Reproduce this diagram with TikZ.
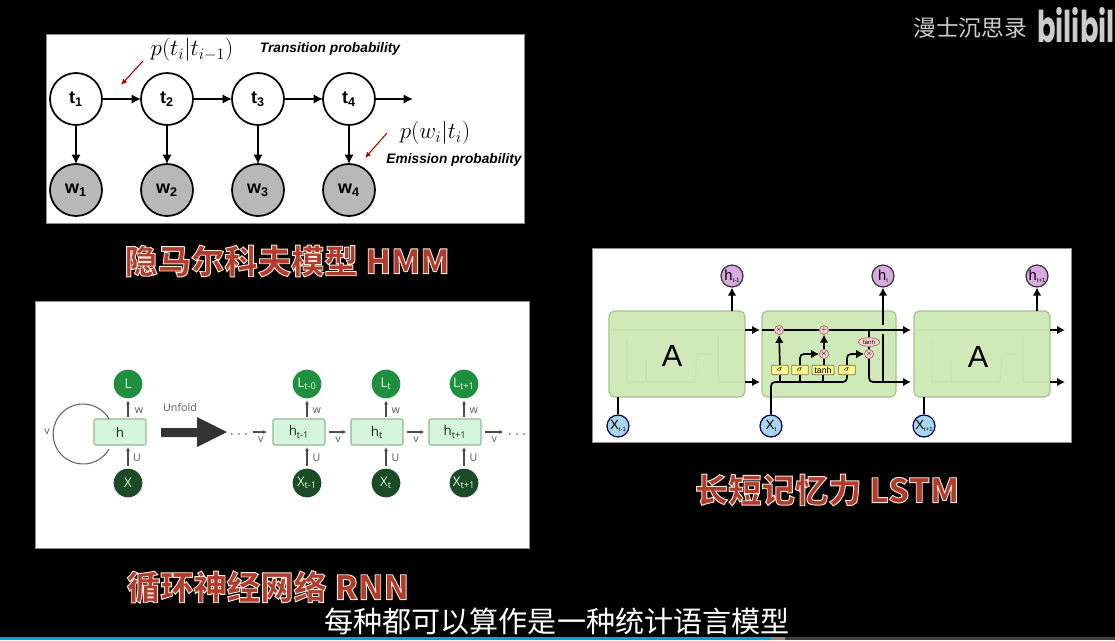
\documentclass[tikz,border=0pt]{standalone}
\usepackage{fontspec}
\usepackage{graphicx}
\usepackage{xcolor}
\usepackage{tikz}
\usetikzlibrary{arrows.meta,positioning,shapes.geometric}
\setmainfont{Liberation Sans}
\newfontfamily\cjk{Noto Sans CJK SC}
\newfontfamily\rnnfont{Open Sans}
\newfontfamily\logofont{Poppins}
\definecolor{titlered}{HTML}{B23C2C}
\definecolor{cellgreen}{HTML}{D6F5DC}
\definecolor{cellline}{HTML}{8FB89A}
\definecolor{lossgreen}{HTML}{1F8F3F}
\definecolor{inputgreen}{HTML}{1B4A26}
\definecolor{lstmgreen}{HTML}{CFE9B8}
\definecolor{lstmedge}{HTML}{A3C48E}
\definecolor{ghostgreen}{HTML}{C8E3B0}
\definecolor{outviolet}{HTML}{D9A9E2}
\definecolor{inblue}{HTML}{A9D5EF}
\definecolor{barblue}{HTML}{00A4DC}
\newcommand{\outlined}[1]{\special{pdf:code q 2 Tr 0.97 0.91 0.86 RG 0.7 w}#1\special{pdf:code Q}}
\newcommand{\tinysub}[1]{\raisebox{-1.2pt}{\fontsize{4.5}{4.5}\selectfont #1}}
\tikzset{
  panel/.style={fill=white,draw=black!45,line width=0.5pt},
  hmmstate/.style={circle,draw=black,line width=1.3pt,fill=white,minimum size=39pt,inner sep=0pt,outer sep=0pt,font=\bfseries\fontsize{13.5}{13.5}\selectfont},
  hmmword/.style={hmmstate,fill=black!28},
  hmmflow/.style={-{Latex[length=7pt,width=7pt]},line width=1.3pt},
  redflow/.style={-{Latex[length=4.5pt,width=4pt]},line width=0.8pt,draw=red!70!black},
  hmmnote/.style={font=\bfseries\itshape\fontsize{10.3}{12}\selectfont,inner sep=0pt},
  mathnote/.style={font=\fontsize{18.5}{20}\selectfont,inner sep=0pt},
  titletext/.style={text=titlered,inner sep=0pt,font=\cjk\bfseries\fontsize{25}{28}\selectfont},
  rnncell/.style={draw=cellline,fill=cellgreen,line width=0.8pt,rounded corners=1.5pt,minimum width=39pt,minimum height=19.5pt,inner sep=0pt,outer sep=0pt,text=black!65!green!60!black,font=\rnnfont\fontsize{10}{10}\selectfont},
  rnnloss/.style={circle,fill=lossgreen,minimum size=21.5pt,inner sep=0pt,outer sep=0pt,text=white!85!green,font=\rnnfont\fontsize{10}{10}\selectfont},
  rnninput/.style={rnnloss,fill=inputgreen},
  rnnflow/.style={-{Latex[length=3pt,width=3pt]},line width=0.8pt,draw=black!70},
  rnnlabel/.style={inner sep=0pt,text=black!65,font=\rnnfont\fontsize{8}{8}\selectfont},
  lstmcell/.style={draw=lstmedge,fill=lstmgreen,line width=0.9pt,rounded corners=4pt,minimum height=64.5pt,inner sep=0pt,outer sep=0pt},
  lstmout/.style={circle,draw=black!80,fill=outviolet,line width=0.9pt,minimum size=16.5pt,inner sep=0pt,font=\fontsize{11}{11}\selectfont},
  lstmin/.style={lstmout,draw=blue!35!black,fill=inblue,font=\fontsize{10}{10}\selectfont},
  lstmflow/.style={-{Latex[length=6pt,width=6.5pt]},line width=1.25pt},
  lstmwire/.style={line width=1.25pt},
  gatebox/.style={draw=yellow!40!black,fill=yellow!45!white,line width=0.6pt,minimum height=7pt,minimum width=12.5pt,inner sep=0pt,rounded corners=0.5pt,font=\fontsize{6.5}{6.5}\selectfont},
  opnode/.style={circle,draw=red!35!black!60,fill=red!18!white,line width=0.5pt,minimum size=6.5pt,inner sep=0pt,font=\fontsize{4.5}{4.5}\selectfont},
  ghostline/.style={draw=ghostgreen,line width=0.8pt}
}

\begin{document}
\begin{tikzpicture}[x=0.75pt,y=-0.75pt,node distance=29.25pt]
  \useasboundingbox (0,0) rectangle (1115,640);
  \fill[black] (0,0) rectangle (1115,640);
  \draw[panel] (46,34) rectangle (524,223);
  \draw[panel] (35,301) rectangle (529,548);
  \draw[panel] (592,248) rectangle (1071,442);
  \fill[black!75] (785,637) rectangle (1115,640);
  \fill[black!45] (771,637) rectangle (785,640);
  \fill[barblue] (0,637) rectangle (771,640);

  % HMM
  \node[hmmstate] (t1) at (76,99) {t\textsubscript{1}};
  \node[hmmstate,right=of t1] (t2) {t\textsubscript{2}};
  \node[hmmstate,right=of t2] (t3) {t\textsubscript{3}};
  \node[hmmstate,right=of t3] (t4) {t\textsubscript{4}};
  \node[hmmword,below=of t1] (w1) {w\textsubscript{1}};
  \node[hmmword,below=of t2] (w2) {w\textsubscript{2}};
  \node[hmmword,below=of t3] (w3) {w\textsubscript{3}};
  \node[hmmword,below=of t4] (w4) {w\textsubscript{4}};
  \coordinate (tend) at (413,99);
  \draw[hmmflow] (t1) -- (t2);
  \draw[hmmflow] (t2) -- (t3);
  \draw[hmmflow] (t3) -- (t4);
  \draw[hmmflow] (t4) -- (tend);
  \foreach \i in {1,2,3,4}
    \draw[hmmflow] (t\i) -- (w\i);
  \node[mathnote] (ptrans) at (192,50) {$p(t_i|t_{i-1})$};
  \node[mathnote] (pemit) at (435,133) {$p(w_i|t_i)$};
  \node[hmmnote] (transnote) at (330,49) {Transition probability};
  \node[hmmnote] (emitnote) at (454,160) {Emission probability};
  \coordinate (redA) at (143,61);
  \coordinate (redB) at (121,85);
  \coordinate (redC) at (387,133);
  \coordinate (redD) at (365,158);
  \draw[redflow] (redA) -- (redB);
  \draw[redflow] (redC) -- (redD);
  \node[titletext] (hmmtitle) at (287,261) {\outlined{隐马尔科夫模型 HMM}};

  % RNN
  \node[rnncell] (h) at (120,432) {h};
  \node[rnnloss] (L) at (128,384) {L};
  \node[rnninput] (X) at (128,483) {X};
  \draw[rnnflow,shorten >=1.5pt,shorten <=1.5pt] (h.north -| L) -- (L);
  \draw[rnnflow,shorten >=1.5pt,shorten <=2pt] (X) -- (h.south -| X);
  \node[rnnlabel] (lw) at (139,411) {w};
  \node[rnnlabel] (lu) at (137,458) {U};
  \draw[line width=0.8pt,draw=black!60] (h.130) arc[start angle=-30,end angle=-330,radius=30];
  \node[rnnlabel] (lv) at (47,432) {v};
  \node[rnnlabel] (unfoldtext) at (180,407) {Unfold};
  \fill[black!80] (161,428) -- (197,428) -- (197,417) -- (227,432) -- (197,447) -- (197,437) -- (161,437) -- cycle;
  \node[rnncell] (hA) at (299,432) {h\textsubscript{t-1}};
  \node[rnncell] (hB) at (377,432) {h\textsubscript{t}};
  \node[rnncell] (hC) at (455,432) {h\textsubscript{t+1}};
  \node[rnnloss] (LA) at (307,384) {L\textsubscript{t-0}};
  \node[rnnloss] (LB) at (386,384) {L\textsubscript{t}};
  \node[rnnloss] (LC) at (464,384) {L\textsubscript{t+1}};
  \node[rnninput] (XA) at (307,483) {X\textsubscript{t-1}};
  \node[rnninput] (XB) at (386,483) {X\textsubscript{t}};
  \node[rnninput] (XC) at (464,483) {X\textsubscript{t+1}};
  \foreach \c in {A,B,C} {
    \draw[rnnflow,shorten >=1.5pt,shorten <=1.5pt] (h\c.north -| L\c) -- (L\c);
    \draw[rnnflow,shorten >=1.5pt,shorten <=2pt] (X\c) -- (h\c.south -| X\c);
    \node[rnnlabel,right=4pt of L\c.south,yshift=-9.4pt] {w};
    \node[rnnlabel,right=4pt of X\c.north,yshift=8pt] {U};
  }
  \node[rnnlabel,font=\fontsize{12}{12}\selectfont] (dotsL) at (239,435) {$\cdots$};
  \node[rnnlabel,font=\fontsize{12}{12}\selectfont] (dotsR) at (517,435) {$\cdots$};
  \draw[rnnflow,shorten >=4.5pt,shorten <=3pt] (dotsL.east |- hA) -- (hA.west) node[rnnlabel,midway,below=3pt] {v};
  \draw[rnnflow,shorten >=3.5pt,shorten <=3pt] (hA) -- (hB) node[rnnlabel,midway,below=3pt] {v};
  \draw[rnnflow,shorten >=3.5pt,shorten <=3pt] (hB) -- (hC) node[rnnlabel,midway,below=3pt] {v};
  \draw[rnnflow,shorten >=3pt,shorten <=3pt] (hC.east) -- (dotsR.west |- hC) node[rnnlabel,midway,below=3pt] {v};
  \node[titletext] (rnntitle) at (268,587) {\outlined{循环神经网络 RNN}};

  % LSTM
  \node[lstmcell,minimum width=102pt] (a1) at (677,354) {};
  \node[lstmcell,minimum width=100.5pt] (a2) at (829,354) {};
  \node[lstmcell,minimum width=102pt] (a3) at (982,354) {};
  \foreach \dx in {0,305} {
    \draw[ghostline] (\dx+609,330) -- (\dx+745,330);
    \draw[ghostline] (\dx+627,340) -- (\dx+627,382) -- (\dx+695,382) -- (\dx+697,354) -- (\dx+712,354);
    \draw[ghostline] (\dx+718,336) -- (\dx+718,382) -- (\dx+745,382);
    \draw[ghostline] (\dx+646,360) -- (\dx+646,382);
  }
  \node[font=\fontsize{23}{23}\selectfont,inner sep=0pt] (atext1) at (672,356) {A};
  \node[font=\fontsize{23}{23}\selectfont,inner sep=0pt] (atext3) at (978,357) {A};
  \node[lstmout] (h1) at (732,276) {h\tinysub{t-1}};
  \node[lstmout] (h2) at (883,276) {h\tinysub{t}};
  \node[lstmout] (h3) at (1037,276) {h\tinysub{t+1}};
  \node[lstmin] (x1) at (618,426) {X\tinysub{t-1}};
  \node[lstmin] (x2) at (771,426) {X\tinysub{t}};
  \node[lstmin] (x3) at (924,426) {X\tinysub{t+1}};
  \draw[lstmflow] (a1.north -| h1) -- (h1);
  \draw[lstmflow] (a3.north -| h3) -- (h3);
  \draw[lstmwire] (x1) -- (a1.south -| x1);
  \draw[lstmwire] (x3) -- (a3.south -| x3);
  \node[opnode] (m1) at (779,330) {$\times$};
  \node[opnode] (p1) at (824,330) {$+$};
  \node[opnode] (m2) at (824,354) {$\times$};
  \node[opnode] (m3) at (869,354) {$\times$};
  \node[ellipse,draw=red!35!black!60,fill=red!18!white,line width=0.5pt,minimum width=16pt,minimum height=6.5pt,inner sep=0pt,font=\fontsize{4.5}{4.5}\selectfont] (tanhtop) at (869,342) {tanh};
  \node[gatebox] (s1) at (780,370) {$\sigma$};
  \node[gatebox] (s2) at (800,370) {$\sigma$};
  \node[gatebox,minimum width=16.5pt] (s3) at (823,370) {tanh};
  \node[gatebox] (s4) at (847,370) {$\sigma$};
  \coordinate (topA) at (745,330);
  \coordinate (topB) at (760,330);
  \coordinate (topC) at (762,330);
  \coordinate (topD) at (911,330);
  \coordinate (topE) at (1050,330);
  \coordinate (topF) at (1065,330);
  \coordinate (botA) at (745,382);
  \coordinate (botB) at (760,382);
  \coordinate (botC) at (847,382);
  \coordinate (botD) at (911,382);
  \coordinate (botE) at (1050,382);
  \coordinate (botF) at (1065,382);
  \coordinate (joinlow) at (883,382);
  \coordinate (joinmid) at (883,334);
  \coordinate (joinup) at (883,325);
  \coordinate (topmerge) at (869,330);
  \draw[lstmflow] (topA) -- (topB);
  \draw[lstmflow] (botA) -- (botB);
  \draw[lstmflow] (topE) -- (topF);
  \draw[lstmflow] (botE) -- (botF);
  \draw[lstmwire] (topC) -- (m1) -- (p1);
  \draw[lstmflow] (p1) -- (topD);
  \draw[lstmwire,rounded corners=3pt] (x2) |- (botC) -- (s4.south);
  \draw[lstmwire] (s1.south) -- (s1.south |- botC);
  \draw[lstmwire] (s2.south) -- (s2.south |- botC);
  \draw[lstmwire] (s3.south) -- (s3.south |- botC);
  \draw[lstmflow] (s1) -- (m1);
  \draw[lstmwire] (s3.north -| m2) -- (m2);
  \draw[lstmflow] (m2) -- (p1);
  \draw[lstmflow,rounded corners=3pt] (s2.north) |- (m2);
  \draw[lstmflow,rounded corners=3pt] (s4.north) |- (m3);
  \draw[lstmwire] (topmerge) -- (tanhtop);
  \draw[lstmwire] (tanhtop) -- (m3);
  \draw[lstmflow,rounded corners=3pt] (m3) |- (botD);
  \draw[lstmwire] (joinlow) -- (joinmid);
  \draw[lstmflow] (joinup) -- (h2);
  \node[titletext] (lstmtitle) at (827,490) {\outlined{长短记忆力 LSTM}};

  % subtitle and watermark
  \node[inner sep=0pt,text=white,font=\cjk\fontsize{21.8}{24}\selectfont] (subtitle) at (557,621) {每种都可以算作是一种统计语言模型};
  \node[inner sep=0pt,text=black!20,font=\cjk\fontsize{17}{20}\selectfont] (channel) at (970,28) {漫士沉思录};
  \node[inner sep=0pt,anchor=east,text=black!20,font=\logofont\bfseries\fontsize{20.5}{20.5}\selectfont] (logo) at (1115,25) {\scalebox{1}[1.6]{bilibil}};
\end{tikzpicture}
\end{document}
